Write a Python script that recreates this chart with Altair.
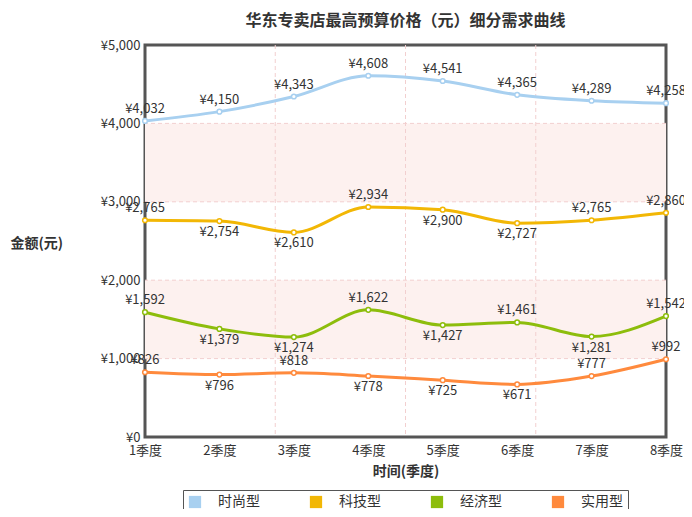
import altair as alt
import pandas as pd

quarters = [1, 2, 3, 4, 5, 6, 7, 8]
series_names = ["时尚型", "科技型", "经济型", "实用型"]
fashion = [4032, 4150, 4343, 4608, 4541, 4365, 4289, 4258]
tech = [2765, 2754, 2610, 2934, 2900, 2727, 2765, 2860]
economy = [1592, 1379, 1274, 1622, 1427, 1461, 1281, 1542]
practical = [826, 796, 818, 778, 725, 671, 777, 992]
colors = ["#a8d0f0", "#f2b705", "#8dbd0c", "#ff8a3d"]
y_ticks = [0, 1000, 2000, 3000, 4000, 5000]

W, H = 521, 392
FONT = "Noto Sans CJK SC"

rows = []
for si, (name, vals) in enumerate(zip(series_names, [fashion, tech, economy, practical])):
    for i, (q, v) in enumerate(zip(quarters, vals)):
        above = si == 0 or i == 0 or v >= vals[i - 1]
        rows.append({"series": name, "q": q, "value": v,
                     "pos": "above" if above else "below",
                     "label": "¥" + f"{v:,}"})
df = pd.DataFrame(rows)

bands = pd.DataFrame({"lo": y_ticks[1:-1:2], "hi": y_ticks[2::2]})
hgrid = pd.DataFrame({"y": y_ticks[1:-1]})
vgrid = pd.DataFrame({"x": [quarters[0] + (quarters[-1] - quarters[0]) * k / 4 for k in (1, 2, 3)]})

xscale = alt.Scale(domain=[quarters[0], quarters[-1]], nice=False, zero=False)
yscale = alt.Scale(domain=[y_ticks[0], y_ticks[-1]], nice=False)
sscale = alt.Scale(domain=series_names, range=colors)

x_axis = alt.Axis(values=quarters, labelExpr="datum.value + '季度'", grid=False, ticks=False,
                  domain=False, labelPadding=7, labelFontSize=13, labelColor="#333",
                  labelFlush=False, title="时间(季度)", titleFontSize=14, titleFontWeight="bold",
                  titleColor="#333", titleY=34, titleBaseline="middle")
y_axis = alt.Axis(values=y_ticks, labelExpr="'¥' + format(datum.value, ',')", grid=False,
                  ticks=False, domain=False, labelPadding=5, labelFontSize=13, labelColor="#333",
                  title="金额(元)", titleAngle=0, titleX=-135, titleY=198, titleAlign="left",
                  titleBaseline="middle", titleFontSize=14, titleFontWeight="bold", titleColor="#333")

band_layer = alt.Chart(bands).mark_rect(color="#fdf1ef").encode(
    x=alt.value(0), x2=alt.value(W),
    y=alt.Y("lo:Q", scale=yscale, axis=y_axis), y2="hi:Q")

hgrid_layer = alt.Chart(hgrid).mark_rule(color="#f2cfcf", strokeDash=[4, 3], strokeWidth=1).encode(
    y=alt.Y("y:Q", scale=yscale))
vgrid_layer = alt.Chart(vgrid).mark_rule(color="#f2cfcf", strokeDash=[4, 3], strokeWidth=1).encode(
    x=alt.X("x:Q", scale=xscale, axis=x_axis))

base = alt.Chart(df)
legend_layer = base.mark_square(size=1, opacity=1).encode(
    x=alt.X("q:Q", scale=xscale), y=alt.Y("value:Q", scale=yscale),
    color=alt.Color("series:N", scale=sscale, title=None,
                    legend=alt.Legend(orient="none", legendX=38, legendY=445, direction="horizontal",
                                      symbolType="square", symbolSize=150, symbolStrokeWidth=0,
                                      symbolOpacity=1,
                                      labelFontSize=14, labelColor="#333", labelOffset=16,
                                      columnPadding=49, strokeColor="#555", padding=5)))
lines = base.mark_line(interpolate="monotone", strokeWidth=3).encode(
    x=alt.X("q:Q", scale=xscale, axis=x_axis),
    y=alt.Y("value:Q", scale=yscale),
    stroke=alt.Stroke("series:N", scale=sscale, legend=None),
    detail="series:N")
points = base.mark_point(filled=False, fill="white", size=22, strokeWidth=1.5, opacity=1).encode(
    x=alt.X("q:Q", scale=xscale),
    y=alt.Y("value:Q", scale=yscale),
    stroke=alt.Stroke("series:N", scale=sscale, legend=None))
text_above = base.transform_filter("datum.pos == 'above'").mark_text(
    baseline="bottom", dy=-5, fontSize=13, color="#333", font=FONT).encode(
    x=alt.X("q:Q", scale=xscale), y=alt.Y("value:Q", scale=yscale), text="label:N")
text_below = base.transform_filter("datum.pos == 'below'").mark_text(
    baseline="top", dy=5, fontSize=13, color="#333", font=FONT).encode(
    x=alt.X("q:Q", scale=xscale), y=alt.Y("value:Q", scale=yscale), text="label:N")

chart = alt.layer(band_layer, hgrid_layer, vgrid_layer, legend_layer, lines, points, text_above,
                  text_below).properties(
    width=W, height=H,
    title=alt.TitleParams("华东专卖店最高预算价格（元）细分需求曲线", fontSize=16, fontWeight="bold",
                          color="#333", offset=10, anchor="middle"),
    autosize=alt.AutoSizeParams(type="none"),
    padding={"left": 137, "top": 37, "right": 18, "bottom": 72},
).configure(font=FONT).configure_view(stroke="#555", strokeWidth=3)

chart.save("out.html", embed_options={"renderer": "svg", "actions": False})
